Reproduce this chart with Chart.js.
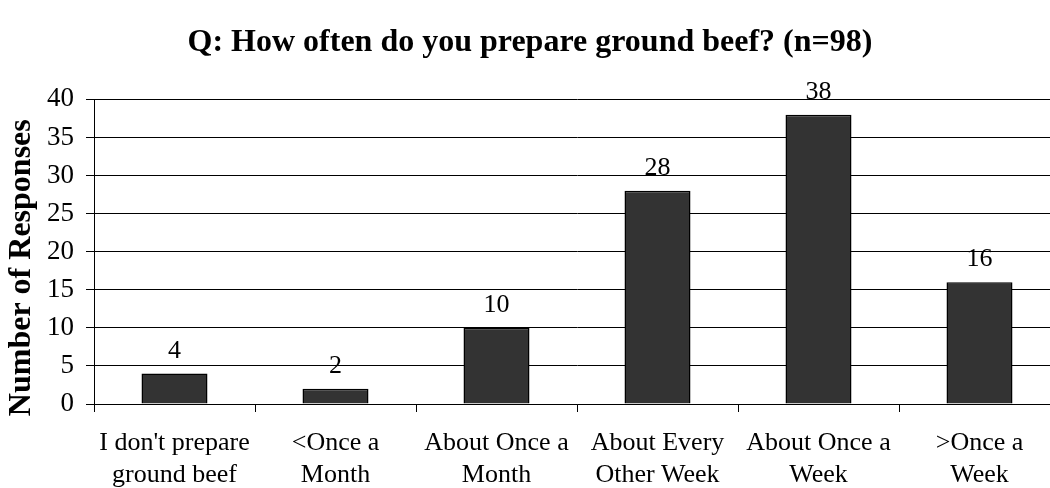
<!DOCTYPE html>
<html>
<head>
<meta charset="utf-8">
<script src="https://cdn.jsdelivr.net/npm/chart.js@4"></script>
<style>
  html, body { margin: 0; padding: 0; background: #fff; overflow: hidden; }
  #wrap { width: 1070px; height: 488px; position: relative; }
</style>
</head>
<body>
<div id="wrap"><canvas id="beefChart"></canvas></div>
<script>
    // dados
    const categorias = [
        ["I don't prepare", 'ground beef'],
        ['<Once a', 'Month'],
        ['About Once a', 'Month'],
        ['About Every', 'Other Week'],
        ['About Once a', 'Week'],
        ['>Once a', 'Week']
    ];
    const respostas = [4, 2, 10, 28, 38, 16];
    const yTicks = [0, 5, 10, 15, 20, 25, 30, 35, 40];

    const SERIF = "'Liberation Serif', 'Times New Roman', serif";

    // rótulos de valor acima das barras
    const valueLabels = {
        id: 'valueLabels',
        afterDatasetsDraw(chart) {
            const ctx = chart.ctx;
            const meta = chart.getDatasetMeta(0);
            const data = chart.data.datasets[0].data;
            ctx.save();
            ctx.font = '26px ' + SERIF;
            ctx.fillStyle = '#000';
            ctx.textAlign = 'center';
            ctx.textBaseline = 'alphabetic';
            meta.data.forEach((bar, i) => {
                ctx.fillText(String(data[i]), bar.x, bar.y - 16);
            });
            ctx.restore();
        }
    };

    new Chart(document.getElementById('beefChart').getContext('2d'), {
        type: 'bar',
        data: {
            labels: categorias,
            datasets: [{
                data: respostas,
                backgroundColor: '#333333',
                borderColor: '#000',
                borderWidth: 1.5,
                categoryPercentage: 1,
                barPercentage: 0.41
            }]
        },
        options: {
            responsive: true,
            maintainAspectRatio: false,
            animation: false,
            layout: { padding: { left: 0, right: 10, top: 0, bottom: 0 } },
            plugins: {
                legend: { display: false },
                tooltip: { enabled: false },
                title: {
                    display: true,
                    text: 'Q: How often do you prepare ground beef? (n=98)',
                    color: '#000',
                    font: { family: SERIF, size: 32, weight: 'bold', lineHeight: 1.2 },
                    padding: { top: 24, bottom: 37 }
                }
            },
            scales: {
                x: {
                    grid: { display: true, drawOnChartArea: false, offset: true, color: '#000', tickLength: 8 },
                    border: { color: '#000', width: 1 },
                    ticks: {
                        color: '#000',
                        font: { family: SERIF, size: 26, lineHeight: 1.2 },
                        padding: 16,
                        maxRotation: 0,
                        autoSkip: false
                    },
                    afterFit(axis) { axis.height = 84; }
                },
                y: {
                    min: 0,
                    max: 40,
                    afterBuildTicks(axis) { axis.ticks = yTicks.map(v => ({ value: v })); },
                    grid: { color: '#000', lineWidth: 1, tickLength: 8 },
                    border: { color: '#000', width: 1 },
                    ticks: {
                        color: '#000',
                        font: { family: SERIF, size: 27 },
                        padding: 12
                    },
                    title: {
                        display: true,
                        // espaços no fim empurram o título um pouco para baixo, como no original
                        text: 'Number of Responses\u00a0\u00a0\u00a0\u00a0',
                        color: '#000',
                        font: { family: SERIF, size: 32, weight: 'bold', lineHeight: 1.2 },
                        padding: { top: 3, bottom: 0 }
                    },
                    afterFit(axis) { axis.width = 94; }
                }
            }
        },
        plugins: [valueLabels]
    });
</script>
</body>
</html>
